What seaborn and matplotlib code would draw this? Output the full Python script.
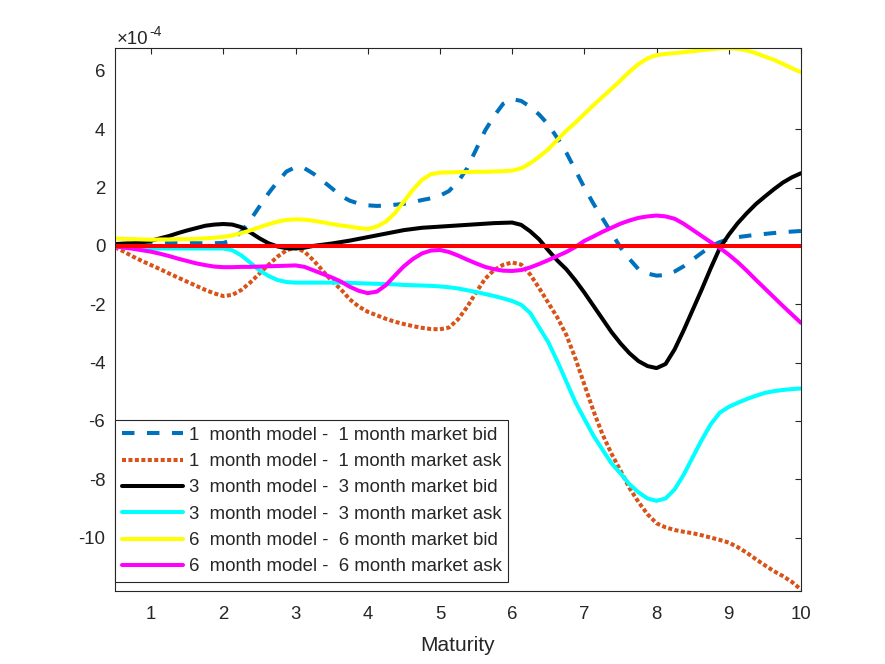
import numpy as np
import pandas as pd
import matplotlib
matplotlib.use("Agg")
import matplotlib.pyplot as plt
from matplotlib.ticker import FuncFormatter
import seaborn as sns

# Maturity grid (step 1/8) and spreads in units of 1e-4
maturity = np.arange(0.5, 10.0001, 0.125)

bid_1m = [0.02, 0.04, 0.06, 0.07, 0.08, 0.09, 0.09, 0.09,
          0.09, 0.09, 0.09, 0.09, 0.10, 0.20, 0.49, 0.89,
          1.35, 1.80, 2.20, 2.55, 2.70, 2.66, 2.47, 2.23,
          1.98, 1.72, 1.55, 1.45, 1.39, 1.37, 1.38, 1.41,
          1.44, 1.50, 1.57, 1.63, 1.72, 1.88, 2.20, 2.65,
          3.30, 3.95, 4.45, 4.87, 5.03, 4.97, 4.77, 4.50,
          4.16, 3.70, 3.20, 2.60, 2.00, 1.45, 0.95, 0.45,
          -0.05, -0.45, -0.80, -0.95, -1.02, -1.00, -0.88, -0.70,
          -0.47, -0.24, -0.02, 0.13, 0.23, 0.30, 0.34, 0.38,
          0.41, 0.44, 0.47, 0.49, 0.51]
ask_1m = [-0.05, -0.20, -0.37, -0.52, -0.66, -0.80, -0.95, -1.09,
          -1.23, -1.37, -1.51, -1.63, -1.72, -1.68, -1.51, -1.25,
          -0.95, -0.65, -0.37, -0.15, -0.06, -0.20, -0.50, -0.85,
          -1.20, -1.48, -1.83, -2.08, -2.26, -2.38, -2.50, -2.60,
          -2.68, -2.75, -2.81, -2.85, -2.86, -2.80, -2.52, -2.10,
          -1.60, -1.13, -0.83, -0.65, -0.57, -0.64, -0.98, -1.45,
          -1.95, -2.45, -3.05, -3.85, -4.75, -5.65, -6.45, -7.12,
          -7.70, -8.30, -8.78, -9.20, -9.51, -9.65, -9.74, -9.80,
          -9.85, -9.92, -10.00, -10.08, -10.17, -10.33, -10.52, -10.74,
          -10.95, -11.15, -11.32, -11.52, -11.78]
bid_3m = [0.06, 0.08, 0.09, 0.13, 0.18, 0.26, 0.34, 0.44,
          0.53, 0.61, 0.69, 0.73, 0.75, 0.73, 0.64, 0.46,
          0.26, 0.09, -0.02, -0.08, -0.09, -0.06, 0.00, 0.04,
          0.08, 0.13, 0.18, 0.24, 0.30, 0.36, 0.42, 0.48,
          0.54, 0.58, 0.62, 0.64, 0.66, 0.68, 0.70, 0.72,
          0.74, 0.76, 0.78, 0.79, 0.80, 0.72, 0.50, 0.22,
          -0.15, -0.50, -0.80, -1.18, -1.60, -2.05, -2.50, -2.95,
          -3.34, -3.68, -3.95, -4.12, -4.19, -4.05, -3.55, -2.90,
          -2.20, -1.50, -0.77, -0.08, 0.38, 0.78, 1.12, 1.43,
          1.69, 1.94, 2.17, 2.35, 2.49]
ask_3m = [-0.02, -0.05, -0.07, -0.08, -0.09, -0.09, -0.09, -0.09,
          -0.09, -0.09, -0.09, -0.09, -0.09, -0.15, -0.33, -0.58,
          -0.84, -1.03, -1.17, -1.24, -1.26, -1.26, -1.26, -1.26,
          -1.26, -1.26, -1.27, -1.28, -1.29, -1.30, -1.31, -1.32,
          -1.34, -1.35, -1.36, -1.37, -1.39, -1.42, -1.46, -1.52,
          -1.58, -1.65, -1.72, -1.80, -1.89, -2.02, -2.30, -2.80,
          -3.30, -3.95, -4.65, -5.35, -5.93, -6.50, -6.98, -7.45,
          -7.80, -8.17, -8.45, -8.66, -8.74, -8.66, -8.35, -7.85,
          -7.25, -6.66, -6.12, -5.72, -5.52, -5.38, -5.25, -5.14,
          -5.04, -4.98, -4.94, -4.91, -4.89]
bid_6m = [0.25, 0.24, 0.23, 0.22, 0.21, 0.22, 0.22, 0.23,
          0.23, 0.24, 0.26, 0.28, 0.31, 0.36, 0.44, 0.53,
          0.64, 0.74, 0.83, 0.89, 0.91, 0.90, 0.86, 0.81,
          0.75, 0.70, 0.66, 0.61, 0.58, 0.66, 0.83, 1.12,
          1.52, 1.92, 2.26, 2.46, 2.51, 2.52, 2.53, 2.53,
          2.54, 2.54, 2.55, 2.56, 2.58, 2.66, 2.83, 3.06,
          3.31, 3.63, 3.95, 4.22, 4.52, 4.82, 5.10, 5.38,
          5.67, 5.97, 6.23, 6.43, 6.54, 6.58, 6.61, 6.64,
          6.67, 6.71, 6.74, 6.77, 6.78, 6.75, 6.70, 6.61,
          6.49, 6.38, 6.24, 6.09, 5.95]
ask_6m = [-0.02, -0.06, -0.10, -0.15, -0.20, -0.27, -0.35, -0.44,
          -0.52, -0.60, -0.66, -0.71, -0.73, -0.73, -0.72, -0.72,
          -0.71, -0.70, -0.69, -0.68, -0.67, -0.72, -0.84, -0.96,
          -1.08, -1.22, -1.40, -1.54, -1.62, -1.57, -1.35, -1.02,
          -0.70, -0.45, -0.26, -0.16, -0.14, -0.21, -0.33, -0.47,
          -0.60, -0.72, -0.80, -0.85, -0.86, -0.83, -0.74, -0.62,
          -0.49, -0.35, -0.21, -0.04, 0.17, 0.32, 0.48, 0.62,
          0.76, 0.87, 0.96, 1.01, 1.04, 1.01, 0.93, 0.76,
          0.55, 0.34, 0.13, -0.07, -0.30, -0.56, -0.85, -1.16,
          -1.46, -1.76, -2.06, -2.35, -2.64]

labels = [
    "1  month model -  1 month market bid",
    "1  month model -  1 month market ask",
    "3  month model -  3 month market bid",
    "3  month model -  3 month market ask",
    "6  month model -  6 month market bid",
    "6  month model -  6 month market ask",
]
series = [bid_1m, ask_1m, bid_3m, ask_3m, bid_6m, ask_6m]
colors = ["#0072BD", "#D95319", "black", "cyan", "yellow", "magenta"]
styles = [(0, (3.1, 3.1)), (0, (1.0, 0.6)), "-", "-", "-", "-"]

sns.set_style("white")
plt.rcParams["font.family"] = ["Liberation Sans", "DejaVu Sans"]
plt.rcParams["axes.unicode_minus"] = False

fig = plt.figure(figsize=(8.85, 6.64), dpi=100)
ax = fig.add_axes([0.13, 0.11, 0.775, 0.818])

scale = 1e-4
for vals, lab, col, ls in zip(series, labels, colors, styles):
    df = pd.DataFrame({"Maturity": maturity, "spread": np.array(vals) * scale})
    sns.lineplot(data=df, x="Maturity", y="spread", ax=ax, color=col, lw=2.9,
                 linestyle=ls, label=lab)

# zero reference line
sns.lineplot(x=maturity, y=np.zeros_like(maturity), ax=ax, color="red", lw=2.9, legend=False)

ax.set_xlim(0.5, 10)
ax.set_ylim(-11.83e-4, 6.79e-4)
ax.set_xticks(range(1, 11))
ax.set_yticks(np.arange(-10, 7, 2) * scale)
ax.yaxis.set_major_formatter(FuncFormatter(lambda v, p: "%d" % round(v / scale)))
ax.tick_params(direction="in", top=True, right=True, length=4.5, width=0.8,
               colors="#262626", labelsize=13.4)
ax.tick_params(axis="x", pad=11)
ax.tick_params(axis="y", pad=7)
for sp in ax.spines.values():
    sp.set_color("#262626")
    sp.set_linewidth(0.8)
ax.set_xlabel("Maturity", fontsize=15, color="#262626", labelpad=9)
ax.set_ylabel("")

ax.text(0.003, 1.007, "×10", transform=ax.transAxes, fontsize=13.4, color="#262626",
        ha="left", va="baseline")
ax.text(0.0495, 1.021, "-4", transform=ax.transAxes, fontsize=10, color="#262626",
        ha="left", va="baseline")

leg = ax.legend(loc="lower left", bbox_to_anchor=(0, 0.0166), borderaxespad=0,
                fontsize=13.4, frameon=True, fancybox=False, framealpha=1,
                edgecolor="#262626", handlelength=3.3, handletextpad=0.3,
                borderpad=0.35, labelspacing=0.5)
leg.get_frame().set_linewidth(0.8)

fig.savefig("out.png", dpi=100)
